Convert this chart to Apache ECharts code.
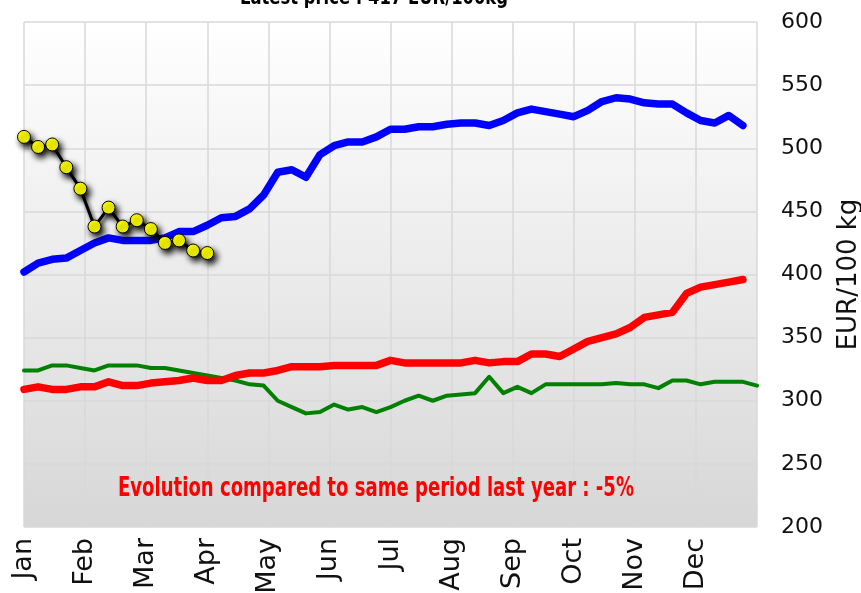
<!DOCTYPE html>
<html>
<head>
<meta charset="utf-8">
<script src="https://cdn.jsdelivr.net/npm/echarts@6/dist/echarts.min.js"></script>
<style>
  html, body { margin: 0; padding: 0; background: #fff; }
  #chart { width: 861px; height: 593px; }
</style>
</head>
<body>
<div id="chart"></div>
<script>
// weekly prices, EUR/100 kg
const months = ['Jan', 'Feb', 'Mar', 'Apr', 'May', 'Jun', 'Jul', 'Aug', 'Sep', 'Oct', 'Nov', 'Dec']

const blueValues = [402, 409, 412, 413, 419, 425, 429, 427, 427, 427, 429, 434, 434, 439, 445, 446, 452, 463, 481, 483,
  477, 495, 502, 505, 505, 509, 515, 515, 517, 517, 519, 520, 520, 518, 522, 528, 531, 529, 527, 525,
  530, 537, 540, 539, 536, 535, 535, 528, 522, 520, 526, 518]

const redValues = [309, 311, 309, 309, 311, 311, 315, 312, 312, 314, 315, 316, 318, 316, 316, 320, 322, 322, 324, 327,
  327, 327, 328, 328, 328, 328, 332, 330, 330, 330, 330, 330, 332, 330, 331, 331, 337, 337, 335, 341,
  347, 350, 353, 358, 366, 368, 370, 385, 390, 392, 394, 396]

const greenValues = [324, 324, 328, 328, 326, 324, 328, 328, 328, 326, 326, 324, 322, 320, 318, 316, 313, 312, 300, 295,
  290, 291, 297, 293, 295, 291, 295, 300, 304, 300, 304, 305, 306, 319, 306, 311, 306, 313, 313, 313,
  313, 313, 314, 313, 313, 310, 316, 316, 313, 315, 315, 315, 312]

const blackValues = [509, 501, 503, 485, 468, 438, 453, 438, 443, 436, 425, 427, 419, 417]

const titleText = 'Latest price : 417 EUR/100kg'
const evolutionText = 'Evolution compared to same period last year : -5%'

// week index -> position on the month axis
const toPoints = (vals) => vals.map((v, i) => [i * 12 / 52, v])

// squeeze bold text to the narrow look of the original
const measureCtx = document.createElement('canvas').getContext('2d')
const squeeze = (text, font, width) => {
  measureCtx.font = font
  return width / measureCtx.measureText(text).width
}
const titleFont = "bold 22px 'DejaVu Sans', sans-serif"
const evolutionFont = "bold 27px 'DejaVu Sans', sans-serif"

const chart = echarts.init(document.getElementById('chart'))

const option = {
  animation: false,
  grid: {
    left: 24, right: 104, top: 22, bottom: 66,
    outerBoundsMode: 'none',
    show: true,
    borderWidth: 0,
    backgroundColor: new echarts.graphic.LinearGradient(0, 0, 0, 1, [
      { offset: 0, color: '#ffffff' },
      { offset: 1, color: '#d7d7d7' },
    ]),
  },
  xAxis: {
    type: 'value',
    min: 0, max: 12, interval: 1,
    axisLine: { show: false },
    axisTick: { show: false },
    splitLine: { show: true, lineStyle: { color: '#d9d9d9', width: 1.5 } },
    axisLabel: {
      rotate: 90,
      margin: 11,
      fontSize: 27,
      fontFamily: 'DejaVu Sans',
      color: '#111',
      showMaxLabel: false,
      formatter: (v) => months[Math.round(v)] || '',
    },
  },
  yAxis: {
    type: 'value',
    position: 'right',
    min: 200, max: 600, interval: 50,
    axisLine: { show: false },
    axisTick: { show: false },
    splitLine: { show: true, lineStyle: { color: '#d9d9d9', width: 1.5 } },
    axisLabel: {
      margin: 24,
      fontSize: 22,
      fontFamily: 'DejaVu Sans',
      color: '#111',
    },
    name: 'EUR/100 kg',
    nameLocation: 'middle',
    nameRotate: 90,
    nameGap: 79,
    nameTextStyle: { fontSize: 26, fontFamily: 'DejaVu Sans', color: '#111' },
  },
  graphic: [
    {
      type: 'text', x: 374, y: 9, z: 100,
      scaleX: squeeze(titleText, titleFont, 268),
      style: { text: titleText, x: 0, y: 0, textAlign: 'center', textVerticalAlign: 'bottom',
        font: titleFont, fill: '#000' },
    },
    {
      type: 'text', x: 376, y: 502, z: 100,
      scaleX: squeeze(evolutionText, evolutionFont, 516),
      style: { text: evolutionText, x: 0, y: 0, textAlign: 'center', textVerticalAlign: 'bottom',
        font: evolutionFont, fill: '#ff0000' },
    },
  ],
  series: [
    {
      name: 'green', type: 'line', data: toPoints(greenValues), showSymbol: false,
      lineStyle: { color: '#008000', width: 4, cap: 'round', join: 'round' },
    },
    {
      name: 'red', type: 'line', data: toPoints(redValues), showSymbol: false,
      lineStyle: { color: '#ff0000', width: 7.5, cap: 'round', join: 'round' },
    },
    {
      name: 'blue', type: 'line', data: toPoints(blueValues), showSymbol: false,
      lineStyle: { color: '#0000ff', width: 7.5, cap: 'round', join: 'round' },
    },
    {
      name: 'current', type: 'line', data: toPoints(blackValues),
      symbol: 'circle', symbolSize: 13,
      lineStyle: { color: '#000', width: 3, shadowColor: 'rgba(0,0,0,0.85)', shadowBlur: 4, shadowOffsetX: 2, shadowOffsetY: 3 },
      itemStyle: { color: '#ffff00', borderColor: '#000', borderWidth: 1,
        shadowColor: 'rgba(0,0,0,1)', shadowBlur: 6, shadowOffsetX: 3, shadowOffsetY: 4 },
    },
  ],
}

chart.setOption(option)
</script>
</body>
</html>
